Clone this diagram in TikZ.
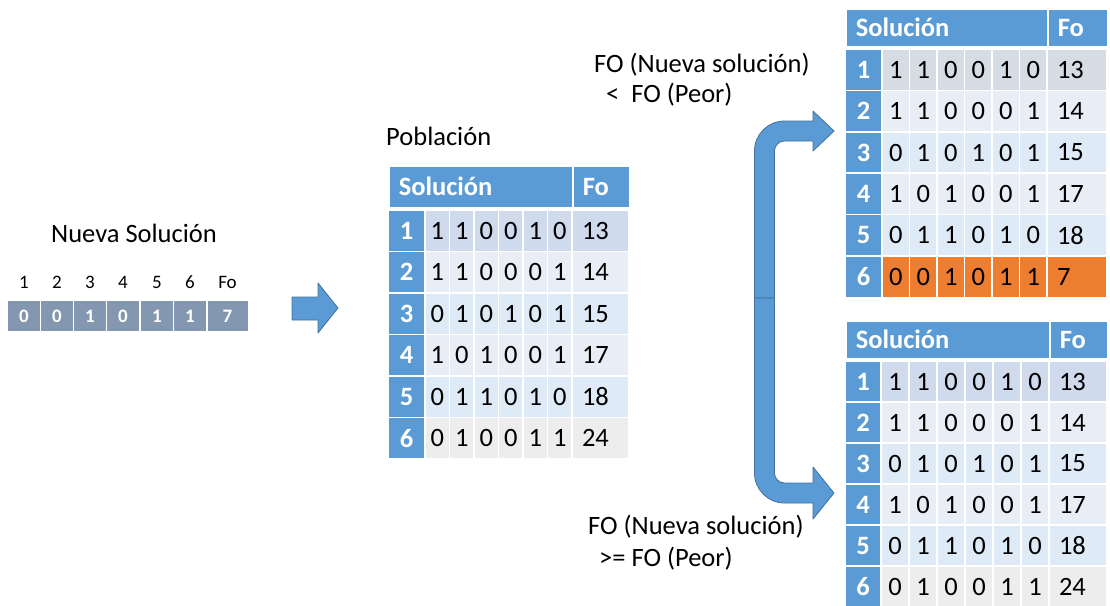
\documentclass[tikz,border=0pt]{standalone}
\usepackage{fontspec}
\setmainfont{Carlito}
\usepackage{tikz}

\definecolor{azul}{HTML}{5B9BD5}
\definecolor{azulborde}{HTML}{41719C}
\definecolor{pizarra}{HTML}{8497B0}
\definecolor{filaA}{HTML}{CFDBEC}
\definecolor{filaB}{HTML}{E9EEF6}
\definecolor{filaC}{HTML}{DEEAF6}
\definecolor{filaD}{HTML}{EDEDED}
\definecolor{filaE}{HTML}{D6DCE4}
\definecolor{naranja}{HTML}{ED7D31}

\newcommand{\grande}{\fontsize{26.5}{31}\selectfont}
\newcommand{\chico}{\fontsize{19}{22}\selectfont}

\tikzset{
	cabecera/.style={fill=azul, draw=white, line width=1.5pt, text=white, font=\grande\bfseries,
		inner xsep=10pt, inner ysep=0pt, align=left, anchor=north west},
	numero/.style={fill=azul, draw=white, line width=1.5pt, text=white, font=\grande\bfseries, inner sep=0pt},
	bit/.style={draw=white, line width=1.5pt, font=\grande, inner sep=0pt},
	fobox/.style={draw=white, line width=1.5pt, font=\grande, inner xsep=10pt, inner ysep=0pt, align=left},
	etiqueta/.style={font=\grande, inner sep=0pt},
	flecha/.style={fill=azul, draw=azulborde, line width=0.8pt, line join=round}
}

% #1 nombre, #2 x, #3 y cabecera, #4 y filas, #5 ancho num, #6 ancho bit, #7 ancho Fo, #8 alto fila, #9 filas
\newcommand{\tabla}[9]{%
	\pgfmathsetmacro{\anchoS}{#5+6*#6-20}
	\pgfmathsetmacro{\anchoF}{#7-20}
	\pgfmathsetmacro{\altoC}{#4-#3-3}
	\node[cabecera, text width=\anchoS pt, minimum height=\altoC] (#1-sol) at (#2,#3) {Solución};
	\node[cabecera, text width=\anchoF pt, minimum height=\altoC] (#1-fo) at ({#2+#5+6*#6},#3) {Fo};
	\foreach \n/\bits/\fo/\col in {#9}{
		\pgfmathsetmacro{\yc}{#4+(\n-0.5)*#8}
		\node[numero, minimum width=#5, minimum height=#8] (#1-\n) at ({#2+#5/2},\yc) {\n};
		\foreach \v [count=\k] in \bits
			\node[bit, fill=\col, minimum width=#6, minimum height=#8] (#1-\n-\k) at ({#2+#5+(\k-0.5)*#6},\yc) {\v};
		\node[fobox, fill=\col, text width=\anchoF pt, minimum height=#8] (#1-\n-fo) at ({#2+#5+6*#6+#7/2},\yc) {\fo};
	}
}

\begin{document}
\begin{tikzpicture}[x=1pt, y=-1pt]
	\useasboundingbox (0,0) rectangle (1110,605);
	
	% nueva solucion
	\node[etiqueta] (nueva) at (134,233) {Nueva Solución};
	\foreach \v/\t/\xc/\w [count=\k] in {0/1/24/33,0/2/57/33,1/3/90/33,0/4/123/33,1/5/157/33,1/6/190/33,7/Fo/227.5/41.5}{
		\node[font=\chico, inner sep=0pt] (n-\k) at (\xc,282) {\t};
		\node[fill=pizarra, draw=white, line width=1.5pt, text=white, font=\chico\bfseries,
			minimum width=\w, minimum height=32, inner sep=0pt] (c-\k) at (\xc,316) {\v};
	}
	
	% flecha
	\filldraw[flecha] (292,297) -- (318,297) -- (318,283) -- (338,308) -- (318,333) -- (318,320) -- (292,320) -- cycle;
	
	% poblacion
	\node[etiqueta, anchor=west] (poblacion) at (386,136) {Población};
	\tabla{pob}{388}{165}{210}{37}{24.5}{57}{41.5}{1/{1,1,0,0,1,0}/13/filaA, 2/{1,1,0,0,0,1}/14/filaB,
		3/{0,1,0,1,0,1}/15/filaC, 4/{1,0,1,0,0,1}/17/filaB, 5/{0,1,1,0,1,0}/18/filaC, 6/{0,1,0,0,1,1}/24/filaD}
	
	% flechas a las dos tablas
	\filldraw[flecha] (754.5,298) -- (754.5,151) .. controls (754.5,134.4) and (767.9,121) .. (784.5,121)
		-- (813,121) -- (813,111) -- (834,131) -- (813,151) -- (813,141) -- (784.5,141)
		.. controls (779,141) and (774.5,145.5) .. (774.5,151) -- (774.5,298) -- cycle;
	\filldraw[flecha] (754.5,298) -- (754.5,473) .. controls (754.5,489.6) and (767.9,503) .. (784.5,503)
		-- (813,503) -- (813,519) -- (834,493) -- (813,467) -- (813,483) -- (784.5,483)
		.. controls (779,483) and (774.5,478.5) .. (774.5,473) -- (774.5,298) -- cycle;
	
	\node[etiqueta, anchor=west] (mejor1) at (594,65) {FO (Nueva solución)};
	\node[etiqueta, anchor=west] (mejor2) at (606,95) {<\ \ FO (Peor)};
	\node[etiqueta, anchor=west] (peor1) at (588,527) {FO (Nueva solución)};
	\node[etiqueta, anchor=west] (peor2) at (599,559) {>= FO (Peor)};
	
	% tabla con reemplazo
	\tabla{arr}{845}{8}{49}{37}{27.5}{60}{41.4}{1/{1,1,0,0,1,0}/13/filaE, 2/{1,1,0,0,0,1}/14/filaB,
		3/{0,1,0,1,0,1}/15/filaC, 4/{1,0,1,0,0,1}/17/filaB, 5/{0,1,1,0,1,0}/18/filaC, 6/{0,0,1,0,1,1}/7/naranja}
	
	% tabla sin cambio
	\tabla{aba}{845}{320}{361}{36}{28}{58}{41}{1/{1,1,0,0,1,0}/13/filaA, 2/{1,1,0,0,0,1}/14/filaB,
		3/{0,1,0,1,0,1}/15/filaC, 4/{1,0,1,0,0,1}/17/filaB, 5/{0,1,1,0,1,0}/18/filaC, 6/{0,1,0,0,1,1}/24/filaD}
\end{tikzpicture}
\end{document}
